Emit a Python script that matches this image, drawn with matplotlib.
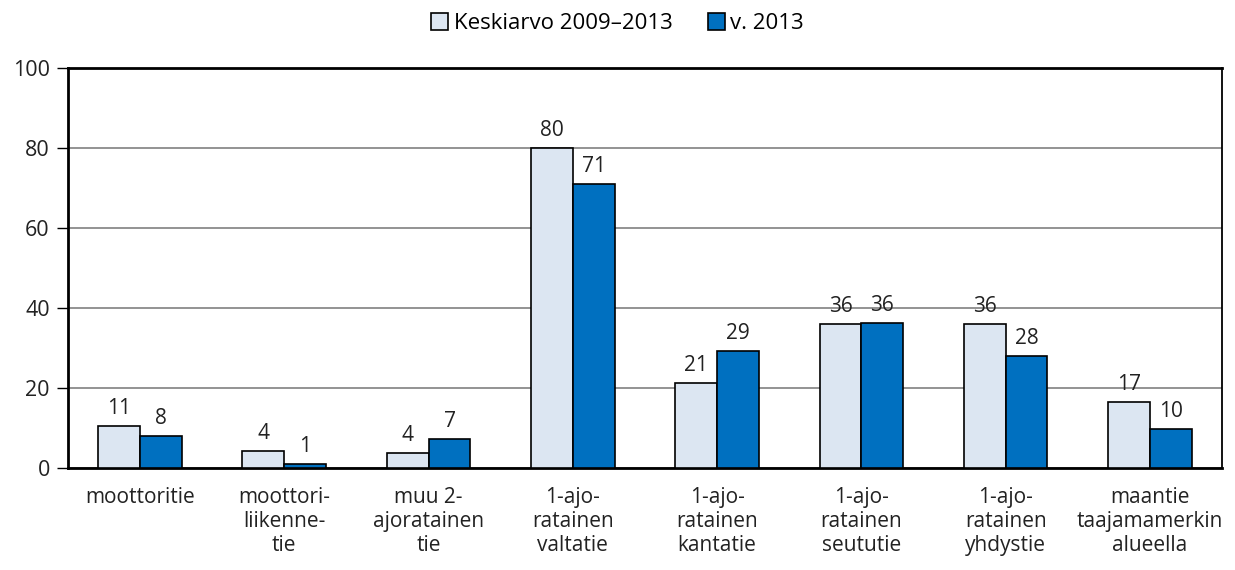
import numpy as np
import matplotlib.pyplot as plt

plt.rcParams['font.family'] = ['Open Sans', 'DejaVu Sans']

# Categories and values
categories = ["moottoritie", "moottori-\nliikenne-\ntie", "muu 2-\najoratainen\ntie",
              "1-ajo-\nratainen\nvaltatie", "1-ajo-\nratainen\nkantatie",
              "1-ajo-\nratainen\nseututie", "1-ajo-\nratainen\nyhdystie",
              "maantie\ntaajamamerkin\nalueella"]
avg_values = [10.5, 4.2, 3.8, 80, 21.2, 36, 36, 16.4]
avg_labels = [11, 4, 4, 80, 21, 36, 36, 17]
y2013_values = [8, 1, 7.2, 71, 29.2, 36.2, 28, 9.8]
y2013_labels = [8, 1, 7, 71, 29, 36, 28, 10]

light = '#DCE6F2'
dark = '#0070C0'
txt = '#222222'

fig = plt.figure(figsize=(12.35, 5.7), dpi=100)
ax = fig.add_axes([0.055, 0.179, 0.9345, 0.702])

x = np.arange(len(categories))
w = 0.29

b1 = ax.bar(x - w / 2, avg_values, w, color=light, edgecolor='black', linewidth=1.2,
            label='Keskiarvo 2009\u20132013', zorder=3)
b2 = ax.bar(x + w / 2, y2013_values, w, color=dark, edgecolor='black', linewidth=1.2,
            label='v. 2013', zorder=3)

# value labels above the bars
for xi, v, lab in zip(x - w / 2, avg_values, avg_labels):
    ax.text(xi, v + 1.8, str(lab), ha='center', va='bottom', fontsize=15, color=txt)
for xi, v, lab in zip(x + w / 2, y2013_values, y2013_labels):
    ax.text(xi, v + 1.8, str(lab), ha='center', va='bottom', fontsize=15, color=txt)

ax.set_xlim(-0.5, len(categories) - 0.5)
ax.set_ylim(0, 100)
ax.set_yticks([0, 20, 40, 60, 80, 100])
ax.set_xticks(x)
ax.set_xticklabels(categories, fontsize=15, color=txt, linespacing=1.18)
ax.tick_params(axis='x', length=0, pad=14)
ax.tick_params(axis='y', length=8, width=1, labelsize=15.5, labelcolor=txt, pad=5)

ax.grid(axis='y', color='#808080', linewidth=1.2, zorder=0)
for s in ax.spines.values():
    s.set_linewidth(2)
    s.set_color('black')
ax.spines['right'].set_linewidth(1.3)

fig.legend(handles=[b1, b2], loc='upper center', bbox_to_anchor=(0.5, 1.012), ncol=2,
           frameon=False, fontsize=16, handlelength=0.75, handleheight=0.75,
           handletextpad=0.25, columnspacing=1.6)

fig.savefig('out.png', dpi=100)
